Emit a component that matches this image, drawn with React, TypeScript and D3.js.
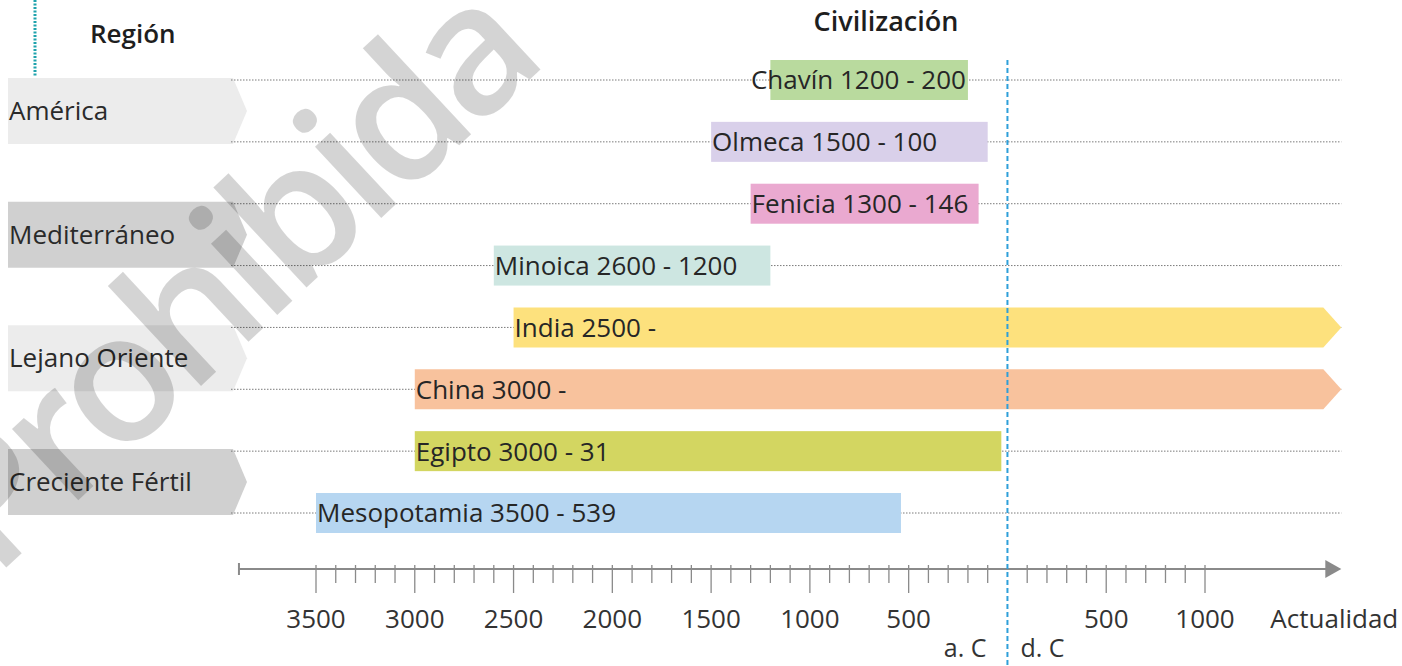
import React, { useEffect, useRef } from "react";
import * as d3 from "d3";

// ---------- data ----------
const civilizations = ["Chavín", "Olmeca", "Fenicia", "Minoica", "India", "China", "Egipto", "Mesopotamia"];
// years: negative = a.C., positive = d.C.; null end = continues to the present
const startYears = [-1200, -1500, -1300, -2600, -2500, -3000, -3000, -3500];
const endYears: (number | null)[] = [-200, -100, -146, -1200, null, null, -31, -539];
const barLabels = [
  "Chavín 1200 - 200",
  "Olmeca 1500 - 100",
  "Fenicia 1300 - 146",
  "Minoica 2600 - 1200",
  "India 2500 -",
  "China 3000 -",
  "Egipto 3000 - 31",
  "Mesopotamia 3500 - 539",
];
const barColors = ["#b9da9e", "#d9d0ea", "#eaa9d0", "#cde6e1", "#fde17d", "#f8c29d", "#d3d661", "#b6d6f1"];

const regions = ["América", "Mediterráneo", "Lejano Oriente", "Creciente Fértil"];
const regionRows = [[0, 1], [2, 3], [4, 5], [6, 7]];
const regionColors = ["#ececec", "#d0d0d0", "#ececec", "#d0d0d0"];

const majorTicks = [-3500, -3000, -2500, -2000, -1500, -1000, -500, 500, 1000];
const majorTickLabels = ["3500", "3000", "2500", "2000", "1500", "1000", "500", "500", "1000"];
const minorTicks = d3.range(-3500, 1001, 100).filter((v) => v !== 0);
const axisStartYear = -3890;
const presentYear = 1690;

const FONT = "'Open Sans', 'Noto Sans', sans-serif";
const FS = 26;

export default function App() {
  const ref = useRef<SVGSVGElement | null>(null);

  useEffect(() => {
    const svg = d3.select(ref.current);
    svg.selectAll("*").remove();

    const x = d3.scaleLinear().domain([-3500, 1000]).range([316, 1205]);
    const y = d3.scalePoint<string>().domain(civilizations).range([80, 513]);
    const barH = 40;

    // header
    svg.append("line")
      .attr("x1", 35).attr("x2", 35).attr("y1", 0).attr("y2", 76)
      .attr("stroke", "#1fa3ad").attr("stroke-width", 3).attr("stroke-dasharray", "2,1.5");
    svg.append("text").attr("x", 90).attr("y", 43).text("Región")
      .attr("font-family", FONT).attr("font-size", FS).attr("font-weight", 600).attr("fill", "#1e1e1e");
    svg.append("text").attr("x", 886).attr("y", 31).attr("text-anchor", "middle").text("Civilización")
      .attr("font-family", FONT).attr("font-size", FS + 1).attr("font-weight", 600).attr("fill", "#1e1e1e");

    // region boxes
    regions.forEach((r, i) => {
      const [a, b] = regionRows[i];
      const cy = ((y(civilizations[a]) as number) + (y(civilizations[b]) as number)) / 2;
      const h = 66;
      const x0 = 8, x1 = 233, tip = 247;
      svg.append("path")
        .attr("d", `M${x0},${cy - h / 2}H${x1}L${tip},${cy}L${x1},${cy + h / 2}H${x0}Z`)
        .attr("fill", regionColors[i]);
      svg.append("text").attr("x", 9).attr("y", cy).attr("dy", "0.35em").text(r)
        .attr("font-family", FONT).attr("font-size", FS).attr("fill", "#2a2a2a");
    });

    // dotted guide lines
    civilizations.forEach((c) => {
      svg.append("line")
        .attr("x1", 231).attr("x2", x(presentYear)).attr("y1", y(c) as number).attr("y2", y(c) as number)
        .attr("stroke", "#7a7a7a").attr("stroke-width", 1).attr("stroke-dasharray", "1.5,1.5");
    });

    // bars
    civilizations.forEach((c, i) => {
      const cy = y(c) as number;
      const xs = x(startYears[i]);
      const end = endYears[i];
      if (end === null) {
        const xe = x(presentYear);
        svg.append("path")
          .attr("d", `M${xs},${cy - barH / 2}H${xe - 18}L${xe},${cy}L${xe - 18},${cy + barH / 2}H${xs}Z`)
          .attr("fill", barColors[i]);
      } else {
        svg.append("rect").attr("x", xs).attr("y", cy - barH / 2).attr("width", x(end) - xs).attr("height", barH)
          .attr("fill", barColors[i]);
      }
      const t = svg.append("text").attr("x", xs + 1).attr("y", cy).attr("dy", "0.36em").text(barLabels[i])
        .attr("font-family", FONT).attr("font-size", FS).attr("fill", "#262626");
      if (end !== null) {
        const w = (t.node() as SVGTextElement).getComputedTextLength();
        const bw = x(end) - xs;
        if (w > bw) {
          t.attr("x", x(end) - 2).attr("text-anchor", "end");
        }
      }
    });

    // axis
    const ay = 569;
    const g = svg.append("g").attr("stroke", "#8a8a8a");
    g.append("line").attr("x1", x(axisStartYear)).attr("x2", x(presentYear) - 10).attr("y1", ay).attr("y2", ay)
      .attr("stroke-width", 2);
    g.append("line").attr("x1", x(axisStartYear)).attr("x2", x(axisStartYear)).attr("y1", ay - 6).attr("y2", ay + 6)
      .attr("stroke-width", 2);
    svg.append("path")
      .attr("d", `M${x(presentYear) - 16},${ay - 9}L${x(presentYear)},${ay}L${x(presentYear) - 16},${ay + 9}Z`)
      .attr("fill", "#8a8a8a");
    minorTicks.forEach((v) => {
      const major = majorTicks.includes(v);
      g.append("line").attr("x1", x(v)).attr("x2", x(v)).attr("y1", ay - 4).attr("y2", ay + (major ? 24 : 14))
        .attr("stroke-width", 1.3);
    });
    majorTicks.forEach((v, i) => {
      svg.append("text").attr("x", x(v)).attr("y", 628).attr("text-anchor", "middle").text(majorTickLabels[i])
        .attr("font-family", FONT).attr("font-size", FS).attr("fill", "#333");
    });
    svg.append("text").attr("x", x(presentYear) - 7).attr("y", 628).attr("text-anchor", "middle").text("Actualidad")
      .attr("font-family", FONT).attr("font-size", FS).attr("fill", "#333");

    // era divider
    svg.append("line").attr("x1", x(0)).attr("x2", x(0)).attr("y1", 60).attr("y2", 666)
      .attr("stroke", "#2e9fd9").attr("stroke-width", 2).attr("stroke-dasharray", "5,3");
    svg.append("text").attr("x", x(0) - 21).attr("y", 657).attr("text-anchor", "end").text("a. C")
      .attr("font-family", FONT).attr("font-size", FS - 1).attr("fill", "#333");
    svg.append("text").attr("x", x(0) + 13).attr("y", 657).attr("text-anchor", "start").text("d. C")
      .attr("font-family", FONT).attr("font-size", FS - 1).attr("fill", "#333");

    // watermark
    svg.append("text").attr("transform", "translate(-6,579) rotate(-43)").text("Prohibida")
      .attr("font-family", FONT).attr("font-size", 180).attr("font-weight", 600).attr("letter-spacing", -10)
      .attr("fill", "#000").attr("fill-opacity", 0.17);
  }, []);

  return (
    <svg ref={ref} width={1402} height={666}
      style={{ position: "absolute", left: 0, top: 0, background: "#fff" }} />
  );
}
